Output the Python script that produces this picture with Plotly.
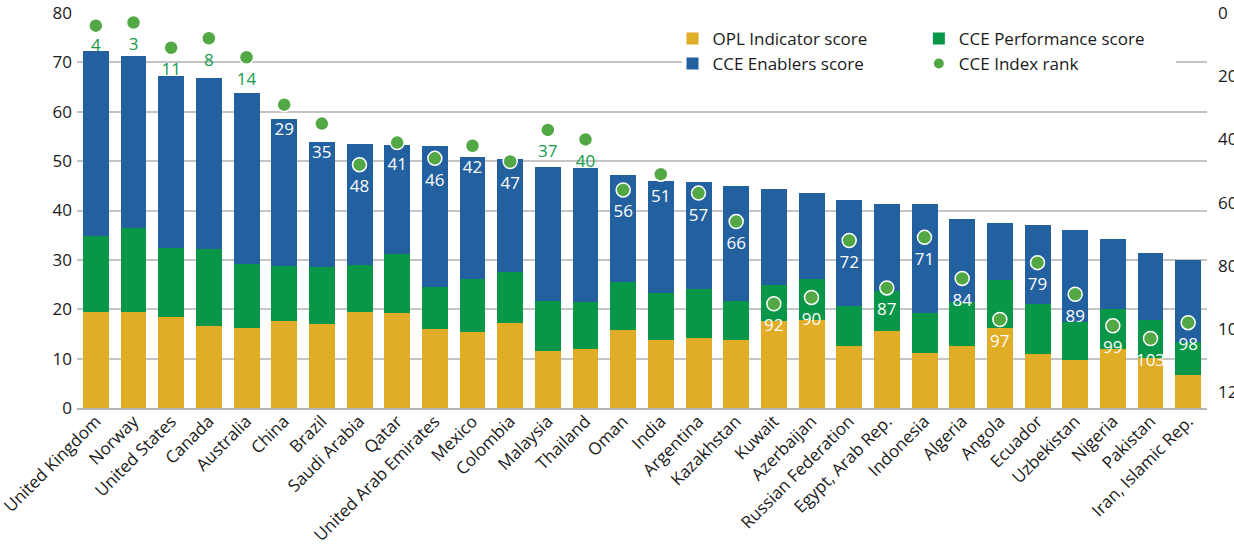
"""Stacked CCE scores by country with CCE Index rank on a reversed secondary axis."""

import plotly.graph_objects as go

countries = [
    "United Kingdom", "Norway", "United States", "Canada", "Australia", "China",
    "Brazil", "Saudi Arabia", "Qatar", "United Arab Emirates", "Mexico", "Colombia",
    "Malaysia", "Thailand", "Oman", "India", "Argentina", "Kazakhstan", "Kuwait",
    "Azerbaijan", "Russian Federation", "Egypt, Arab Rep.", "Indonesia", "Algeria",
    "Angola", "Ecuador", "Uzbekistan", "Nigeria", "Pakistan", "Iran, Islamic Rep.",
]
opl_score = [
    19.4, 19.4, 18.4, 16.6, 16.2, 17.6, 17.0, 19.4, 19.2, 16.0, 15.4, 17.2, 11.5, 11.9, 15.8,
    13.8, 14.2, 13.8, 17.6, 17.8, 12.5, 15.6, 11.1, 12.5, 16.2, 10.9, 9.7, 11.9, 10.1, 6.7,
]
performance_score = [
    15.5, 17.0, 14.0, 15.6, 12.9, 11.1, 11.5, 9.5, 12.0, 8.5, 10.7, 10.3, 10.2, 9.6, 9.7,
    9.5, 9.9, 7.9, 7.3, 8.3, 8.1, 8.1, 8.1, 9.0, 9.7, 10.1, 7.7, 8.1, 7.7, 6.7,
]
enablers_score = [
    37.35, 34.8, 34.8, 34.6, 34.65, 29.8, 25.3, 24.5, 22.0, 28.5, 24.7, 22.9, 27.1, 27.1, 21.7,
    22.6, 21.6, 23.2, 19.4, 17.4, 21.5, 17.6, 22.1, 16.8, 11.5, 16.0, 18.6, 14.2, 13.6, 16.6,
]
cce_rank = [4, 3, 11, 8, 14, 29, 35, 48, 41, 46, 42, 47, 37, 40, 56,
            51, 57, 66, 92, 90, 72, 87, 71, 84, 97, 79, 89, 99, 103, 98]
# labels that sit above the bars are drawn in green, the rest in white
label_outside = [True, True, True, True, True, False, False, False, False, False,
                 False, False, True, True, False, False, False, False, False, False,
                 False, False, False, False, False, False, False, False, False, False]

YELLOW = "#E1AC26"
GREEN = "#089748"
BLUE = "#23609F"
DOT = "#52A845"
LABEL_GREEN = "#149A4C"
FONT = "Open Sans"

# invisible marker sizes used only to push each rank label below its dot
label_gap = [19, 22, 22, 22, 22, 27, 33] + [22] * 23

fig = go.Figure()

fig.add_trace(go.Bar(x=countries, y=opl_score, name="OPL Indicator score",
                     marker=dict(color=YELLOW, line=dict(width=0)), legend="legend"))
fig.add_trace(go.Bar(x=countries, y=performance_score, name="CCE Performance score",
                     marker=dict(color=GREEN, line=dict(width=0)), legend="legend2"))
fig.add_trace(go.Bar(x=countries, y=enablers_score, name="CCE Enablers score",
                     marker=dict(color=BLUE, line=dict(width=0)), legend="legend"))
fig.add_trace(
    go.Scatter(
        x=countries,
        y=cce_rank,
        yaxis="y2",
        mode="markers",
        name="CCE Index rank",
        legend="legend2",
        marker=dict(color=DOT, size=14, line=dict(color="white", width=1.5)),
        cliponaxis=False,
    )
)
fig.add_trace(
    go.Scatter(
        x=countries,
        y=cce_rank,
        yaxis="y2",
        mode="markers+text",
        showlegend=False,
        hoverinfo="skip",
        text=[str(r) for r in cce_rank],
        textposition="bottom center",
        textfont=dict(family=FONT, size=17,
                      color=[LABEL_GREEN if o else "white" for o in label_outside]),
        marker=dict(color="rgba(0,0,0,0)", size=label_gap, line=dict(width=0)),
        cliponaxis=False,
    )
)

legend_style = dict(
    orientation="v",
    traceorder="normal",
    xanchor="left",
    yanchor="top",
    y=0.98,
    bgcolor="rgba(0,0,0,0)",
    font=dict(size=17, color="#1a1a1a"),
    itemsizing="constant",
)

# white panel behind the two legend columns hides the 70 gridline there
fig.add_shape(
    type="rect", xref="paper", yref="paper",
    x0=0.5354, x1=0.9726, y0=0.845, y1=0.97,
    fillcolor="white", line=dict(width=0), layer="above",
)

fig.update_layout(
    barmode="stack",
    bargap=0.31,
    width=1234,
    height=545,
    autosize=False,
    paper_bgcolor="white",
    plot_bgcolor="white",
    font=dict(family=FONT, size=17, color="#1a1a1a"),
    margin=dict(l=77, r=27, t=13, b=137, autoexpand=False),
    xaxis=dict(
        tickangle=-45,
        showgrid=False,
        showline=True,
        linecolor="#b4b4b4",
        linewidth=1.5,
        tickfont=dict(size=17),
        range=[-0.5, 29.5],
        ticklabelstandoff=-5,
        automargin=False,
    ),
    yaxis=dict(
        range=[0, 80],
        dtick=10,
        showgrid=True,
        gridcolor="#c4c4c4",
        gridwidth=1.5,
        zeroline=False,
        ticklabelstandoff=4,
        ticklabeloverflow="allow",
        automargin=False,
    ),
    yaxis2=dict(
        overlaying="y",
        side="right",
        range=[125, 0],
        tickvals=[0, 20, 40, 60, 80, 100, 120],
        showgrid=False,
        zeroline=False,
        ticklabelstandoff=10,
        ticklabeloverflow="allow",
        automargin=False,
    ),
    legend=dict(x=0.527, **legend_style),
    legend2=dict(x=0.745, **legend_style),
    showlegend=True,
)

# drop the browser's default 8px body margin so the figure fills the window
fig.write_html(
    "out.html",
    config={"displayModeBar": False},
    post_script="document.body.style.margin = '0';",
)
